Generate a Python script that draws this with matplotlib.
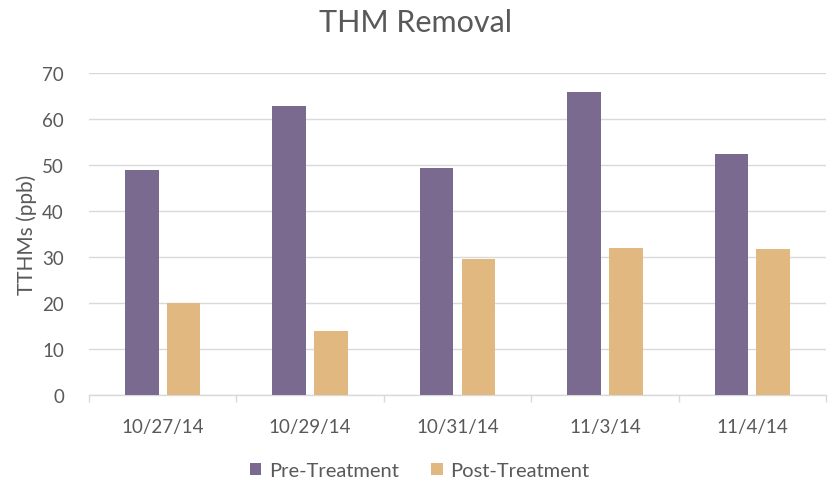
import matplotlib
matplotlib.use("Agg")
import matplotlib.pyplot as plt
import numpy as np

categories = ["10/27/14", "10/29/14", "10/31/14", "11/3/14", "11/4/14"]
pre_treatment = [48.8, 62.8, 49.2, 65.9, 52.4]
post_treatment = [20.0, 13.9, 29.5, 32.0, 31.7]
series_names = ["Pre-Treatment", "Post-Treatment"]
yticks = [0, 10, 20, 30, 40, 50, 60, 70]

plt.rcParams['font.family'] = ['Lato', 'DejaVu Sans']
txt = "#595959"
c_pre = "#7B6A8F"
c_post = "#E1B87F"

fig = plt.figure(figsize=(8.31, 4.85), dpi=100)
ax = fig.add_axes([89/831, 1 - 395.7/485, (826-89)/831, (395.7-73.7)/485])

x = np.arange(len(categories))
w = 0.228
off = 0.142
ax.bar(x - off, pre_treatment, w, color=c_pre, label=series_names[0], zorder=3)
ax.bar(x + off, post_treatment, w, color=c_post, label=series_names[1], zorder=3)

ax.set_xlim(-0.5, len(categories) - 0.5)
ax.set_ylim(0, 70)
ax.set_yticks(yticks)
ax.grid(axis='y', color="#D9D9D9", linewidth=1, zorder=0)
for s in ['top', 'right', 'left']:
    ax.spines[s].set_visible(False)
ax.spines['bottom'].set_color("#D9D9D9")
ax.spines['bottom'].set_linewidth(1)
ax.tick_params(axis='y', length=0, labelsize=13.5, labelcolor=txt, pad=18)
ax.set_xticks(x)
ax.set_xticklabels(categories)
ax.tick_params(axis='x', length=0, labelsize=13.5, labelcolor=txt, pad=17)
ax.set_xticks(np.arange(len(categories) + 1) - 0.5, minor=True)
ax.tick_params(axis='x', which='minor', length=5, color="#D9D9D9", width=1)

ax.set_ylabel("TTHMs (ppb)", fontsize=15, color=txt, labelpad=4)
fig.suptitle("THM Removal", fontsize=22, color=txt, y=0.982)

fig.legend(loc='center', bbox_to_anchor=(420/831, 1 - 472/485), ncol=2,
           frameon=False, fontsize=14.5, labelcolor=txt, handlelength=0.55,
           handleheight=0.55, columnspacing=1.6, handletextpad=0.4)

fig.savefig("out.png", dpi=100)
